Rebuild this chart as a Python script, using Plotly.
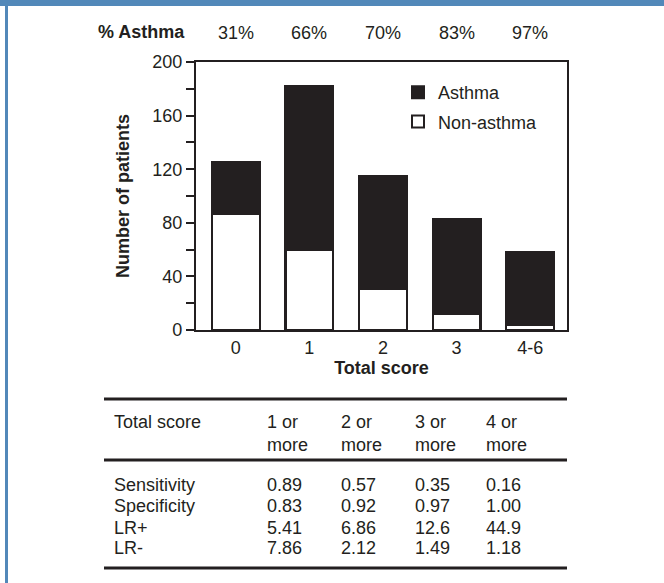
import plotly.graph_objects as go

# ---- data ----
categories = ["0", "1", "2", "3", "4-6"]
non_asthma = [87, 60, 31, 12, 3.5]
asthma = [38, 122, 84, 71, 55]
pct_asthma = ["31%", "66%", "70%", "83%", "97%"]

table_header = ["Total score", "1 or<br>more", "2 or<br>more", "3 or<br>more", "4 or<br>more"]
row_labels = ["Sensitivity", "Specificity", "LR+", "LR-"]
row_values = [
    ["0.89", "0.57", "0.35", "0.16"],
    ["0.83", "0.92", "0.97", "1.00"],
    ["5.41", "6.86", "12.6", "44.9"],
    ["7.86", "2.12", "1.49", "1.18"],
]

W, H = 664, 583
L, R, T, B = 196, 567, 62, 330
INK = "#231f20"
FONT = "Liberation Sans, Arial, sans-serif"
FS = 18


def px(x):
    return (x - L) / (R - L)


def py(y):
    return (B - y) / (B - T)


fig = go.Figure()
fig.add_bar(x=categories, y=non_asthma, name="Non-asthma", legendgroup="n",
            legendrank=2,
            marker=dict(color="white", line=dict(color=INK, width=2.2)),
            width=0.65)
fig.add_bar(x=categories, y=asthma, name="Asthma", legendgroup="a",
            legendrank=1,
            marker=dict(color=INK, line=dict(color=INK, width=2.2)),
            width=0.65)

annotations = []
annotations.append(dict(x=px(187), y=py(32), xref="paper", yref="paper",
                        text="<b>% Asthma</b>", showarrow=False,
                        xanchor="right", yanchor="middle",
                        font=dict(size=FS, color=INK, family=FONT)))
for c, p in zip(categories, pct_asthma):
    annotations.append(dict(x=c, y=py(33), xref="x", yref="paper", text=p,
                            showarrow=False, xanchor="center", yanchor="middle",
                            font=dict(size=FS, color=INK, family=FONT)))

# table
col_x = [112, 265, 339, 413, 484]
for h, cx in zip(table_header, col_x):
    annotations.append(dict(x=px(cx), y=py(410), xref="paper", yref="paper",
                            text=h, showarrow=False, xanchor="left", yanchor="top",
                            align="left",
                            font=dict(size=FS, color=INK, family=FONT)))
row_y = [485, 506, 528, 548]
for lab, vals, ry in zip(row_labels, row_values, row_y):
    annotations.append(dict(x=px(col_x[0]), y=py(ry), xref="paper", yref="paper",
                            text=lab, showarrow=False, xanchor="left",
                            yanchor="middle",
                            font=dict(size=FS, color=INK, family=FONT)))
    for v, cx in zip(vals, col_x[1:]):
        annotations.append(dict(x=px(cx), y=py(ry), xref="paper", yref="paper",
                                text=v, showarrow=False, xanchor="left",
                                yanchor="middle",
                                font=dict(size=FS, color=INK, family=FONT)))

shapes = []
for ly in [399, 460, 568]:
    shapes.append(dict(type="line", xref="paper", yref="paper",
                       x0=px(104), x1=px(567), y0=py(ly), y1=py(ly),
                       line=dict(color=INK, width=3)))
# blue frame
shapes.append(dict(type="rect", xref="paper", yref="paper",
                   x0=px(0), x1=px(W), y0=py(0), y1=py(6),
                   fillcolor="#5288b9", line=dict(width=0), layer="above"))
shapes.append(dict(type="rect", xref="paper", yref="paper",
                   x0=px(5), x1=px(8), y0=py(0), y1=py(H),
                   fillcolor="#5288b9", line=dict(width=0), layer="above"))

fig.update_layout(
    width=W, height=H,
    margin=dict(l=L, r=W - R, t=T, b=H - B, pad=0),
    paper_bgcolor="white", plot_bgcolor="white",
    barmode="stack", bargap=0.35,
    font=dict(family=FONT, size=FS, color=INK),
    showlegend=True,
    legend=dict(x=px(398), y=py(74), xanchor="left", yanchor="top",
                traceorder="grouped", bgcolor="rgba(0,0,0,0)",
                font=dict(size=FS, color=INK, family=FONT),
                itemsizing="constant", tracegroupgap=3),
    annotations=annotations,
    shapes=shapes,
    xaxis=dict(range=[-0.54, 4.5], showline=True, mirror=True,
               linecolor=INK, linewidth=2.2, ticks="", showgrid=False,
               tickfont=dict(size=FS, color=INK),
               title=dict(text="<b>Total score</b>", standoff=0,
                          font=dict(size=FS, color=INK))),
    yaxis=dict(range=[0, 200], dtick=40, showline=True, mirror=True,
               linecolor=INK, linewidth=2.2, ticks="outside", ticklen=8,
               tickwidth=2, tickcolor=INK, showgrid=False, zeroline=False,
               tickfont=dict(size=FS, color=INK),
               minor=dict(dtick=20, ticks="outside", ticklen=8, tickwidth=2,
                          tickcolor=INK, showgrid=False),
               title=dict(text="<b>Number of patients</b>", standoff=18,
                          font=dict(size=FS, color=INK))),
)

fig.write_html("out.html", config={"displayModeBar": False},
               post_script="document.body.style.margin='0';")
